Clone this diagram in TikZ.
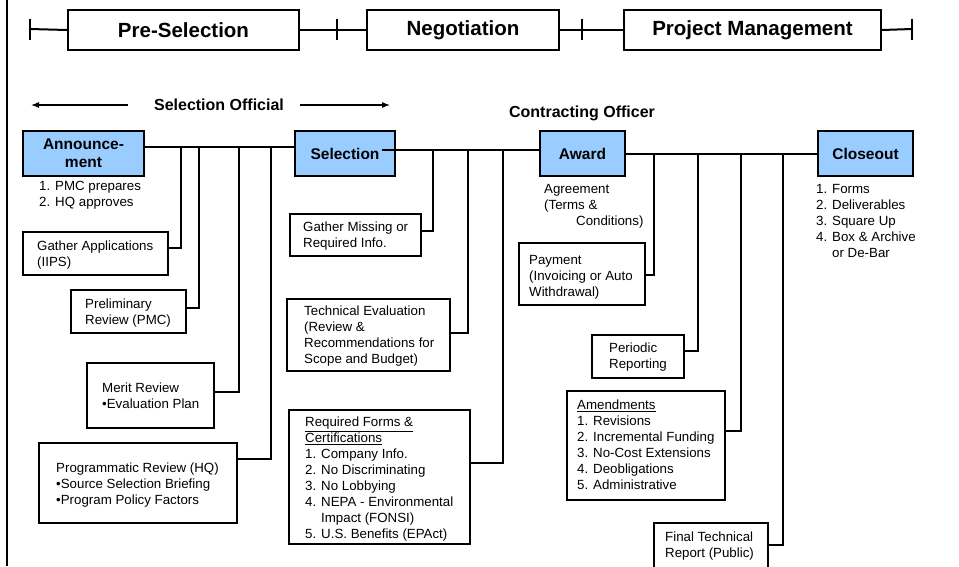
\documentclass[tikz,border=0pt]{standalone}
\usepackage{fontspec}
\setmainfont{Liberation Sans}
\usetikzlibrary{arrows.meta,calc}
\definecolor{boxblue}{HTML}{99CCFF}
\begin{document}
\begin{tikzpicture}[x=1pt,y=-1pt,
  txt/.style={font=\fontsize{13.3}{16}\selectfont, inner sep=0pt, align=left, anchor=north west},
  subbox/.style={draw, line width=2pt, inner sep=0pt, anchor=north west},
  mainbox/.style={draw, line width=2pt, fill=boxblue, font=\bfseries\fontsize{15.5}{18}\selectfont, align=center, inner sep=0pt, anchor=north west, minimum height=45pt},
  hdr/.style={draw, line width=2pt, font=\bfseries\fontsize{20.5}{24}\selectfont, inner sep=0pt, anchor=north west, minimum height=40pt},
  ttl/.style={font=\bfseries\fontsize{16}{19}\selectfont, inner sep=0pt},
  conn/.style={line width=2pt},
  arr/.style={line width=1.1pt, -{Latex[length=8pt,width=6pt]}},
  tick/.style={line width=2pt}
]
\useasboundingbox (0,0) rectangle (959,566);
\clip (0,0) rectangle (959,566);

% left frame line
\draw[line width=2pt] (7,0) -- (7,566);

% header row
\node[hdr, minimum width=231pt] (pre) at (67,9) {Pre-Selection};
\node[hdr, minimum width=192pt] (neg) at (366,9) {Negotiation};
\node[hdr, minimum width=257pt] (pm) at (623,9) {Project Management};
\coordinate (t0) at (30,29);
\coordinate (t1) at (337,29);
\coordinate (t2) at (582,29);
\coordinate (t3) at (912,29);
\draw[conn] (t0) -- (pre.west);
\draw[conn] (pre.east) -- (neg.west);
\draw[conn] (neg.east) -- (pm.west);
\draw[conn] (pm.east) -- (t3);
\foreach \t in {t0,t1,t2,t3} \draw[tick] (\t) ++(0,-10.5) -- ++(0,21);

% role titles
\node[ttl] (so) at (219,105) {Selection Official};
\coordinate (soL) at (31,105);
\coordinate (soR) at (390,105);
\draw[arr] ([xshift=-26pt]so.west) -- (soL);
\draw[arr] ([xshift=16pt]so.east) -- (soR);
\node[ttl] (co) at (582,113) {Contracting Officer};

% main boxes
\node[mainbox, minimum width=121pt] (ann) at (22,130) {Announce-\\ment};
\node[mainbox, minimum width=100pt] (sel) at (294,130) {Selection};
\node[mainbox, minimum width=85pt] (awd) at (539,130) {Award};
\node[mainbox, minimum width=95pt] (cls) at (817,130) {Closeout};

\draw[conn] ([yshift=6.5pt]ann.east) -- ([yshift=6.5pt]sel.west);
\draw[conn] ([xshift=-14pt,yshift=3.5pt]sel.east) -- ([yshift=3.5pt]awd.west);
\draw[conn] (awd.east) -- (cls.west);

% junctions
\coordinate (j1) at (181,146);
\coordinate (j2) at (199,146);
\coordinate (j3) at (239,146);
\coordinate (j4) at (271,146);
\coordinate (k1) at (433,149);
\coordinate (k2) at (468,149);
\coordinate (k3) at (503,149);
\coordinate (m1) at (654,152.5);
\coordinate (m2) at (698,152.5);
\coordinate (m3) at (741,152.5);
\coordinate (m4) at (783,152.5);

% texts under main boxes
\node[txt] (annl) at (39,181) {1. PMC prepares\\2. HQ approves};
\node[txt] (agt) at (544,184) {Agreement\\(Terms \&\\\hspace*{32pt}Conditions)};
\node[txt] (clt) at (816,184) {1. Forms\\2. Deliverables\\3. Square Up\\4. Box \& Archive\\\hspace*{16pt}or De-Bar};

% pre-selection sub boxes
\node[subbox, minimum width=145pt, minimum height=43pt] (ga) at (22,231) {};
\node[txt] (gat) at (37,241) {Gather Applications\\(IIPS)};
\node[subbox, minimum width=115pt, minimum height=43pt] (pr) at (70,289) {};
\node[txt] (prt) at (85,299) {Preliminary\\Review (PMC)};
\node[subbox, minimum width=127pt, minimum height=65pt] (mr) at (86,362) {};
\node[txt] (mrt) at (102,383) {Merit Review\\•Evaluation Plan};
\node[subbox, minimum width=198pt, minimum height=80pt] (prg) at (38,442) {};
\node[txt] (prgt) at (56,463) {Programmatic Review (HQ)\\•Source Selection Briefing\\•Program Policy Factors};

\draw[conn] ([yshift=5.5pt]ga.east) -| (j1);
\draw[conn] ([yshift=3.5pt]pr.east) -| (j2);
\draw[conn] ([yshift=3.5pt]mr.east) -| (j3);
\draw[conn] ([yshift=24pt]prg.east) -| (j4);

% negotiation sub boxes
\node[subbox, minimum width=131pt, minimum height=42pt] (gm) at (289,213) {};
\node[txt] (gmt) at (303,222) {Gather Missing or\\Required Info.};
\node[subbox, minimum width=163pt, minimum height=72pt] (te) at (286,298) {};
\node[txt] (tet) at (304,306) {Technical Evaluation\\(Review \&\\Recommendations for\\Scope and Budget)};
\node[subbox, minimum width=181pt, minimum height=134pt] (rf) at (288,409) {};
\node[txt] (rft) at (305,417) {\underline{Required Forms \&}\\\underline{Certifications}\\1. Company Info.\\2. No Discriminating\\3. No Lobbying\\4. NEPA - Environmental\\\hspace*{16pt}Impact (FONSI)\\5. U.S. Benefits (EPAct)};

\draw[conn] ([yshift=4pt]gm.east) -| (k1);
\draw[conn] ([yshift=2pt]te.east) -| (k2);
\draw[conn] ([yshift=14pt]rf.east) -| (k3);

% project management sub boxes
\node[subbox, minimum width=126pt, minimum height=62pt] (pay) at (518,242) {};
\node[txt] (payt) at (529,255) {Payment\\(Invoicing or Auto\\Withdrawal)};
\node[subbox, minimum width=92pt, minimum height=43pt] (per) at (591,334) {};
\node[txt] (pert) at (609,343) {Periodic\\Reporting};
\node[subbox, minimum width=158pt, minimum height=109pt] (am) at (566,390) {};
\node[txt] (amt) at (577,400) {\underline{Amendments}\\1. Revisions\\2. Incremental Funding\\3. No-Cost Extensions\\4. Deobligations\\5. Administrative};
\node[subbox, minimum width=114pt, minimum height=48pt] (ft) at (653,522) {};
\node[txt] (ftt) at (665,532) {Final Technical\\Report (Public)};

\draw[conn] ([yshift=-1pt]pay.east) -| (m1);
\draw[conn] ([yshift=5.5pt]per.east) -| (m2);
\draw[conn] ([yshift=14.5pt]am.east) -| (m3);
\draw[conn] ([yshift=2pt]ft.east) -| (m4);
\end{tikzpicture}
\end{document}
